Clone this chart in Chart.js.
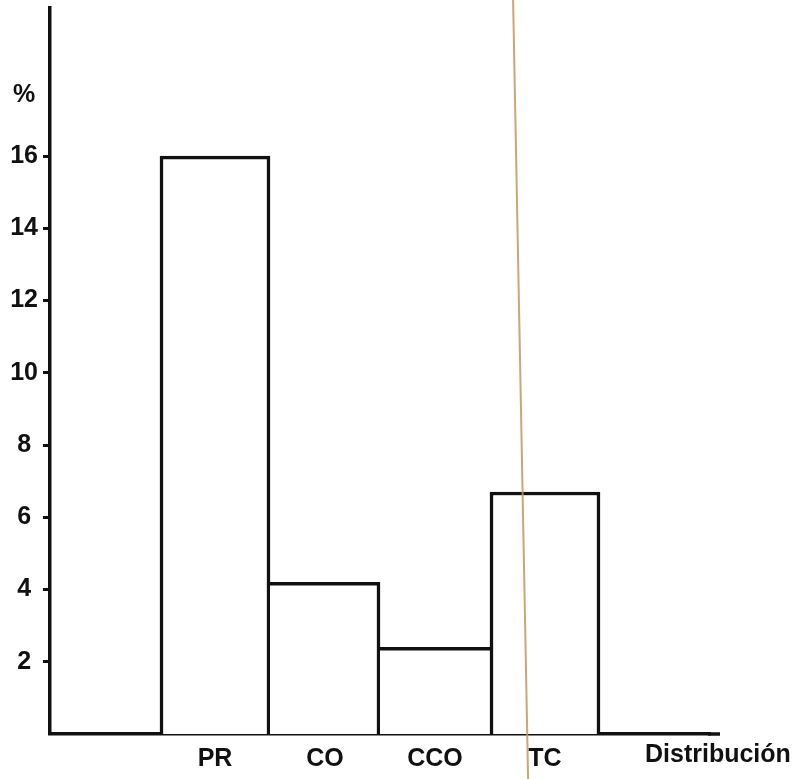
<!DOCTYPE html>
<html>
<head>
<meta charset="utf-8">
<script src="https://cdn.jsdelivr.net/npm/chart.js@4"></script>
<style>
  html, body { margin: 0; padding: 0; background: #fff; }
  #wrap { width: 805px; height: 779px; }
</style>
</head>
<body>
<div id="wrap"><canvas id="barChart" width="805" height="779"></canvas></div>
<script>
// data
const categories = ["", "PR", "CO", "CCO", "TC", ""];
const percents = [null, 16.0, 4.2, 2.4, 6.7, null];
const yTicks = [2, 4, 6, 8, 10, 12, 14, 16];
const yUnitLabel = "%";
const xAxisName = "Distribución";

const FONT = "'Liberation Sans', Arial, sans-serif";
const LINE = 3.5;
const UNIT_POS = 17.7; // where the % sign sits on the y scale

// shared bar edges drawn only once
const barBorders = [
  0,
  { top: LINE, left: LINE, right: LINE, bottom: 0 },
  { top: LINE, left: 0, right: LINE, bottom: 0 },
  { top: LINE, left: 0, right: 0, bottom: 0 },
  { top: LINE, left: LINE, right: LINE, bottom: 0 },
  0
];

// axis name at the end of the x axis, axis tail + the tan scan line
const extras = {
  id: "extras",
  afterDraw(chart) {
    const ctx = chart.ctx;
    const x = chart.scales.x;
    ctx.save();
    ctx.strokeStyle = "#111";
    ctx.lineWidth = LINE;
    ctx.beginPath();
    ctx.moveTo(x.right - 2, x.top);
    ctx.lineTo(x.right + 10, x.top);
    ctx.stroke();

    ctx.fillStyle = "#111";
    ctx.font = "bold 25px " + FONT;
    ctx.textAlign = "left";
    ctx.textBaseline = "middle";
    ctx.fillText(xAxisName, x.right - 65, x.top + 21);

    // scan artefact crossing the page
    ctx.strokeStyle = "rgba(196, 150, 90, 0.85)";
    ctx.lineWidth = 2;
    ctx.beginPath();
    ctx.moveTo(x.getPixelForValue(3.71), 0);
    ctx.lineTo(x.getPixelForValue(3.71) + 15, chart.height);
    ctx.stroke();
    ctx.restore();
  }
};

const ctx = document.getElementById("barChart").getContext("2d");
new Chart(ctx, {
  type: "bar",
  data: {
    labels: categories,
    datasets: [
      {
        data: percents,
        backgroundColor: "#fff",
        borderColor: "#111",
        borderWidth: barBorders,
        borderSkipped: false,
        barPercentage: 1,
        categoryPercentage: 1,
      },
    ],
  },
  options: {
    responsive: false,
    animation: false,
    devicePixelRatio: 1,
    layout: { padding: { top: 8, right: 95, left: 0, bottom: 0 } },
    plugins: { legend: { display: false }, tooltip: { enabled: false } },
    scales: {
      x: {
        grid: { display: false, drawTicks: false },
        border: { display: true, color: "#111", width: LINE },
        ticks: {
          color: "#111",
          font: { family: FONT, size: 25, weight: "bold" },
          padding: 10,
          maxRotation: 0,
        },
        afterFit(scale) {
          scale.height = 45;
          scale.paddingLeft = 0;
          scale.paddingRight = 0;
        },
      },
      y: {
        min: 0,
        max: 20.1,
        grid: {
          drawOnChartArea: false,
          drawTicks: true,
          tickLength: 7,
          tickWidth: 3,
          tickColor: (c) => (c.tick && c.tick.value === UNIT_POS ? "rgba(0,0,0,0)" : "#111"),
        },
        border: { display: true, color: "#111", width: LINE },
        afterBuildTicks(scale) {
          scale.ticks = yTicks.concat([UNIT_POS]).map((v) => ({ value: v }));
        },
        ticks: {
          color: "#111",
          crossAlign: "center",
          padding: 5,
          font: { family: FONT, size: 25, weight: "bold" },
          callback: (v) => (v === UNIT_POS ? yUnitLabel : String(v)),
        },
        afterFit(scale) {
          scale.width = 50;
          scale.paddingTop = 0;
          scale.paddingBottom = 0;
        },
      },
    },
  },
  plugins: [extras],
});
</script>
</body>
</html>
